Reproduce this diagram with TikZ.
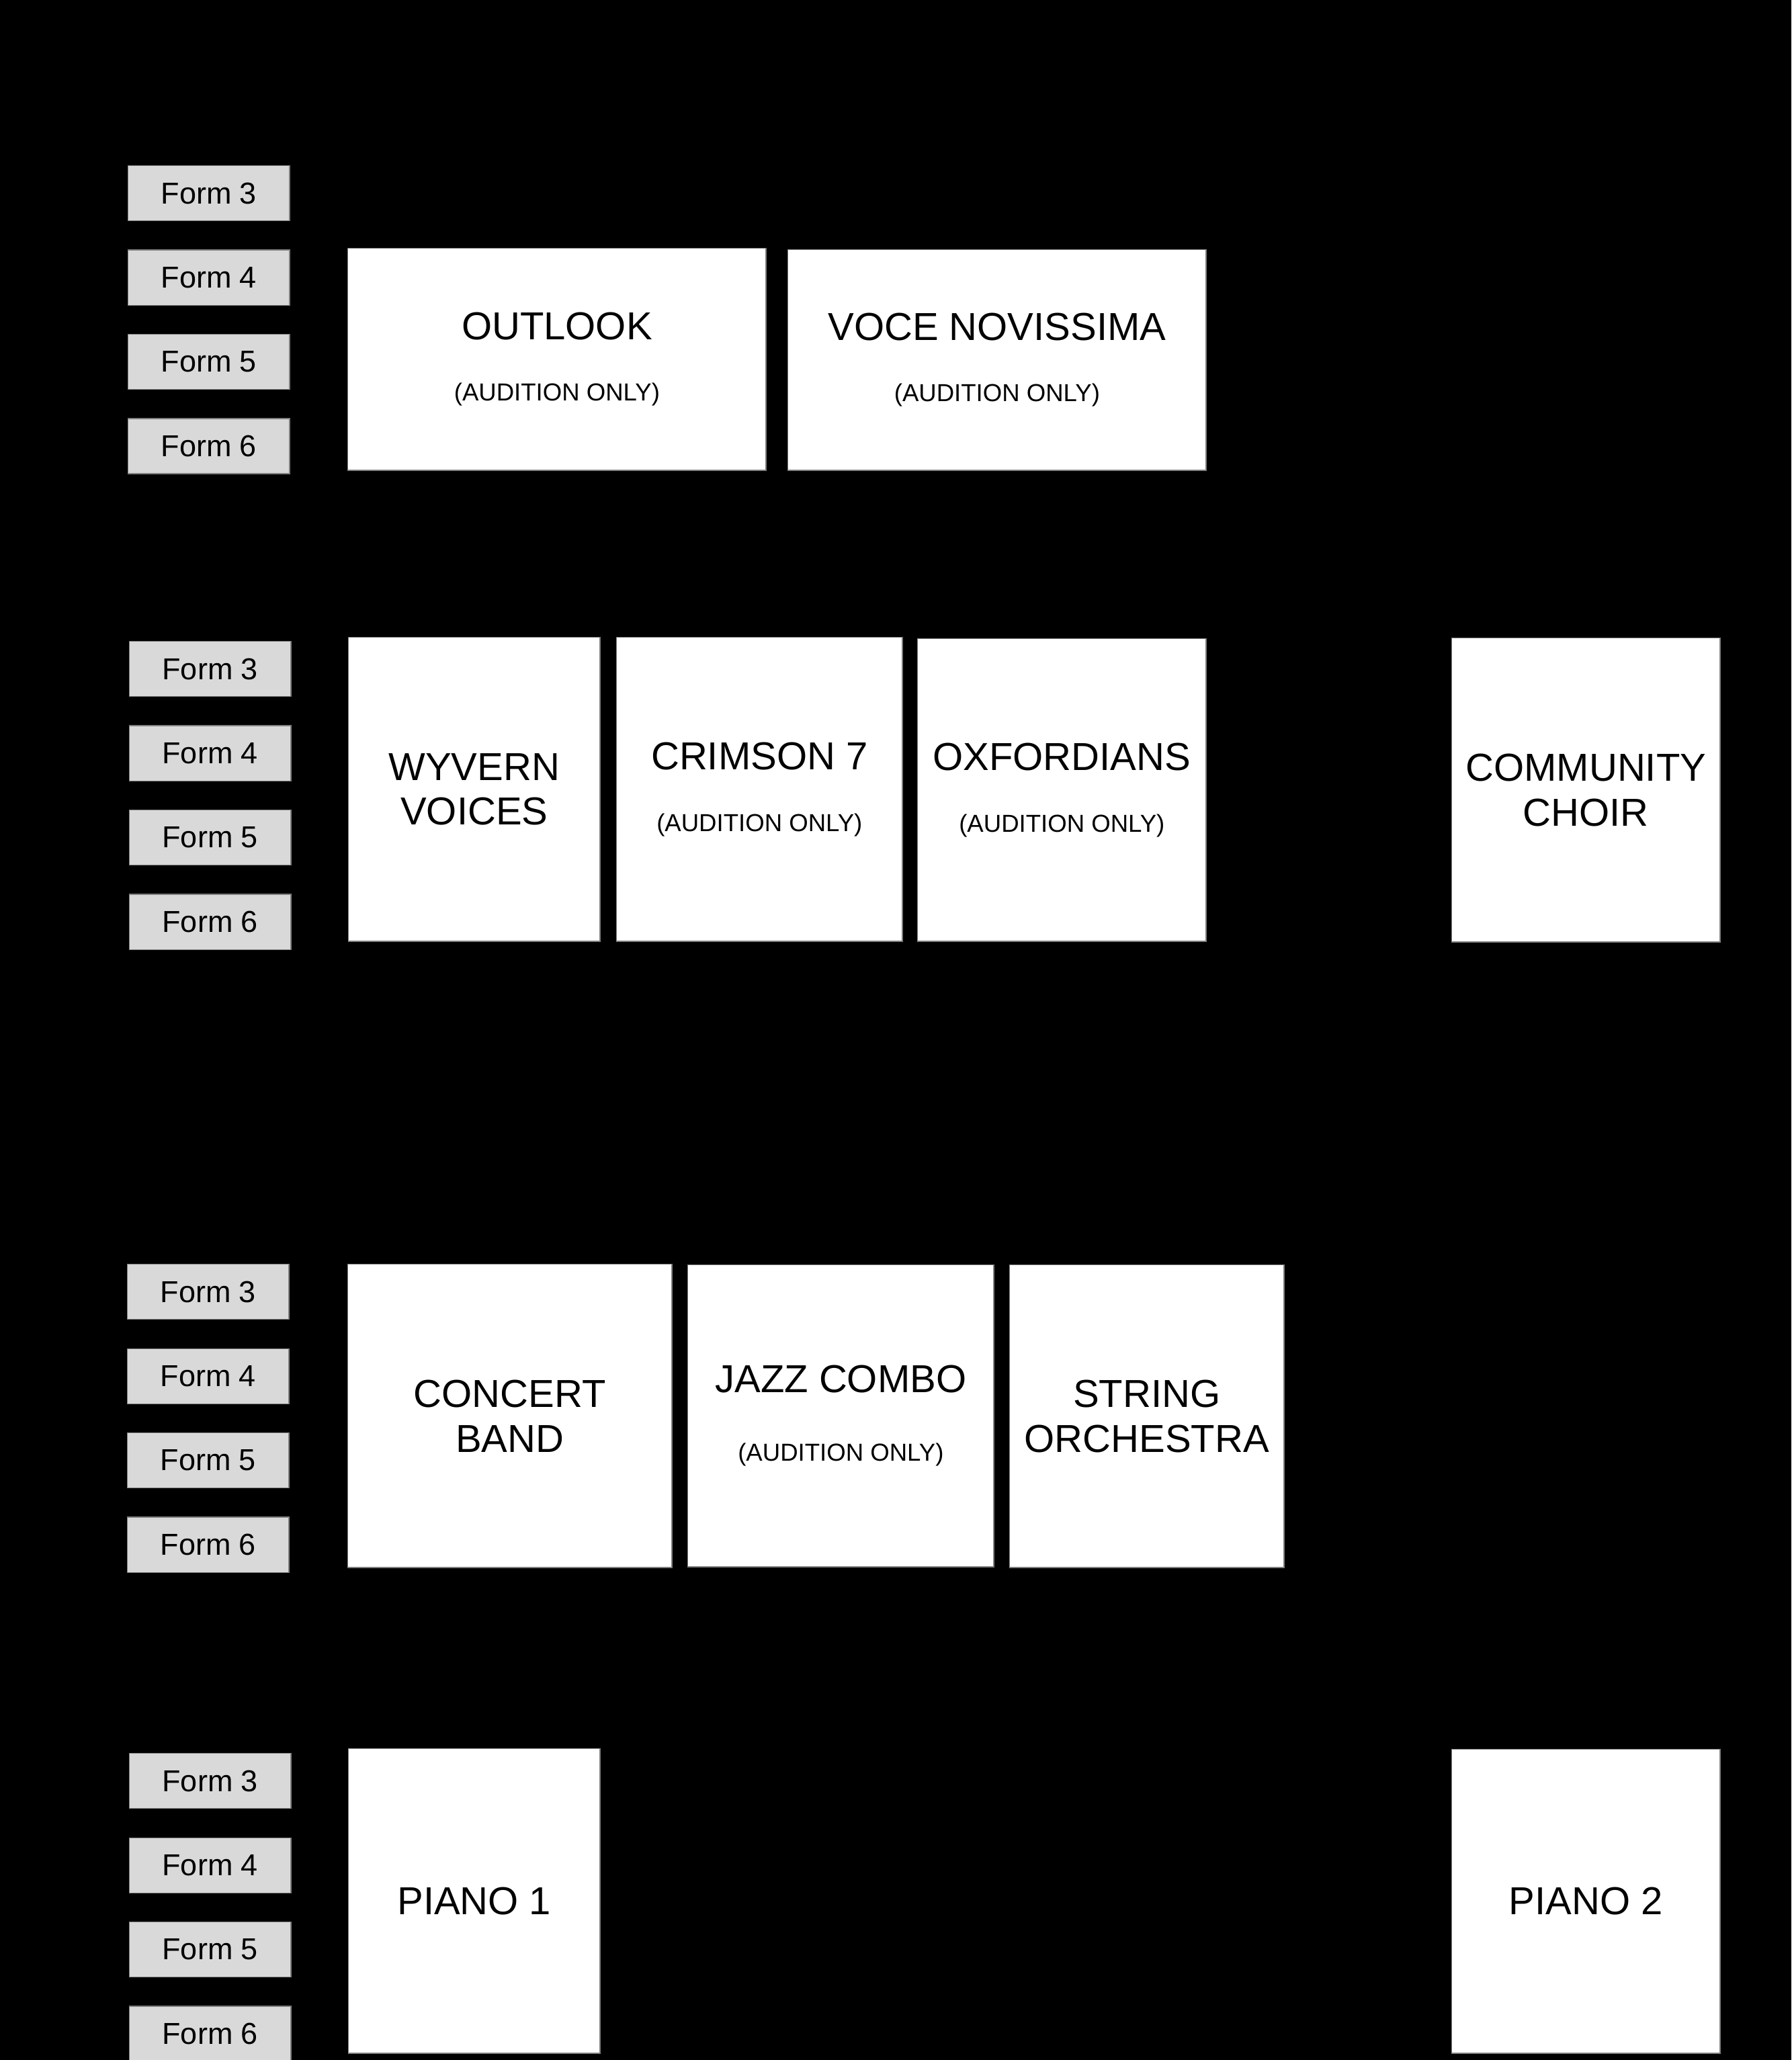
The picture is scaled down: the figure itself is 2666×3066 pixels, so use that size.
\documentclass[tikz,border=0pt]{standalone}
\usepackage{fontspec}
\setmainfont{Liberation Sans}
\usetikzlibrary{positioning}
\definecolor{formgray}{HTML}{D9D9D9}
\definecolor{edgegray}{HTML}{7F7F7F}
\tikzset{
  form/.style={draw=edgegray, line width=0.4pt, fill=formgray,
    minimum width=2.4cm, minimum height=0.82cm, inner sep=0pt,
    font=\fontsize{12.8}{15}\selectfont},
  group/.style={draw=edgegray, line width=0.4pt, fill=white,
    inner sep=0pt, align=center, anchor=north west,
    font=\fontsize{16.5}{19}\selectfont},
}
\newcommand{\audition}{{\fontsize{10.4}{12}\selectfont (AUDITION ONLY)}}

\begin{document}
\begin{tikzpicture}[
  x=0.01cm, y=-0.01cm,
  node distance=0.42cm
]

\useasboundingbox (0,0) rectangle (2666,3066);
\fill[black] (0,0) rectangle (2666,3066);

% first row
\node[form,anchor=north west] (af3) at (190,246) {Form 3};
\node[form,below=of af3] (af4) {Form 4};
\node[form,below=of af4] (af5) {Form 5};
\node[form,below=of af5] (af6) {Form 6};

\node[group,minimum width=6.22cm,minimum height=3.30cm] (outlook) at (517,369)
  {OUTLOOK\\[7pt]\audition};
\node[group,minimum width=6.22cm,minimum height=3.28cm] (voce) at (1172,371)
  {VOCE NOVISSIMA\\[7pt]\audition};

% second row
\node[form,anchor=north west] (bf3) at (192,954) {Form 3};
\node[form,below=of bf3] (bf4) {Form 4};
\node[form,below=of bf4] (bf5) {Form 5};
\node[form,below=of bf5] (bf6) {Form 6};

\node[group,minimum width=3.74cm,minimum height=4.52cm] (wyvern) at (518,948)
  {WYVERN\\VOICES};
\node[group,minimum width=4.25cm,minimum height=4.52cm] (crimson) at (917,948)
  {CRIMSON 7\\[7pt]\audition};
\node[group,minimum width=4.29cm,minimum height=4.50cm] (oxford) at (1365,950)
  {OXFORDIANS\\[7pt]\audition};
\node[group,minimum width=3.99cm,minimum height=4.52cm] (community) at (2160,949)
  {COMMUNITY\\CHOIR};

% third row
\node[form,anchor=north west] (cf3) at (189,1881) {Form 3};
\node[form,below=of cf3] (cf4) {Form 4};
\node[form,below=of cf4] (cf5) {Form 5};
\node[form,below=of cf5] (cf6) {Form 6};

\node[group,minimum width=4.82cm,minimum height=4.51cm] (band) at (517,1881)
  {CONCERT\\BAND};
\node[group,minimum width=4.55cm,minimum height=4.49cm] (jazz) at (1023,1882)
  {JAZZ COMBO\\[10pt]\audition};
\node[group,minimum width=4.08cm,minimum height=4.50cm] (strings) at (1502,1882)
  {STRING\\ORCHESTRA};

% fourth row
\node[form,anchor=north west] (df3) at (192,2609) {Form 3};
\node[form,below=of df3] (df4) {Form 4};
\node[form,below=of df4] (df5) {Form 5};
\node[form,below=of df5] (df6) {Form 6};

\node[group,minimum width=3.74cm,minimum height=4.53cm] (piano1) at (518,2602)
  {PIANO 1};
\node[group,minimum width=3.99cm,minimum height=4.52cm] (piano2) at (2160,2603)
  {PIANO 2};

\end{tikzpicture}
\end{document}
